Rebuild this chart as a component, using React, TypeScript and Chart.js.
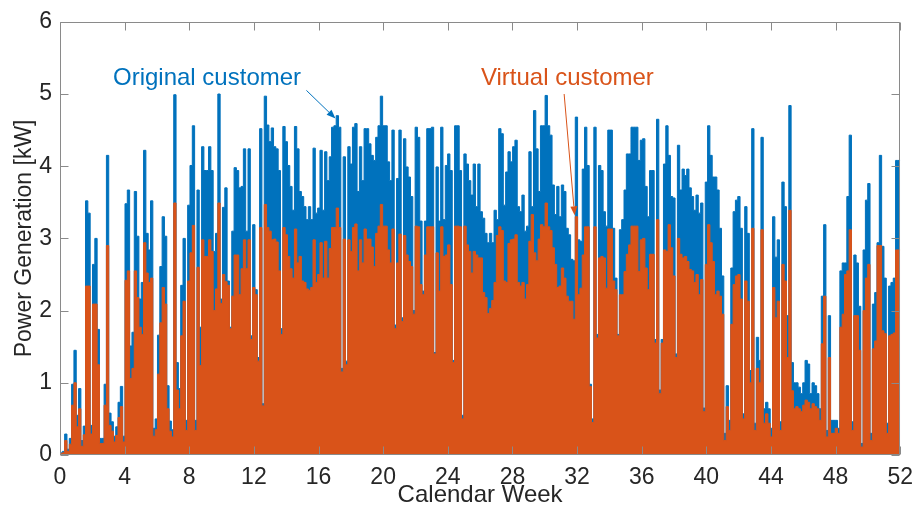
import React, { useEffect, useRef } from "react";
import { Chart, registerables } from "chart.js";

Chart.register(...registerables);

// Daily peak power generation [kW], split by period
const originalWinter = [0.03,0.03,0.05,0.29,0.08,0.23,0.98,1.45,0.55,0.92,0.2,0.4,3.52,3.35,0.41,2.64,3.0,1.74,0.23,0.23,0.98,4.15,0.58,0.46,0.26,0.39,0.73,0.95,0.26,3.48,3.67,1.51,1.7,3.65,3.03,2.16,2.39,4.22,3.07,2.84,3.52,0.37,0.5,1.66,2.61,3.3,3.03,0.96,0.47,0.35,4.99,1.28,0.92,2.35,3.0,0.48,3.46,4.01,4.56,0.48,3.67,1.77];
const originalSpring = [4.27,3.94,3.94,4.27,3.94,2.82,3.07,5.0,2.16,3.43,3.7,2.41,1.77,3.1,3.98,3.94,3.7,3.72,4.24,3.1,4.24,1.65,3.19,2.29,1.35,4.52,0.71,4.97,4.57,4.34,4.53,4.27,4.24,3.94,1.75,4.55,4.34,4.01,3.72,3.39,4.55,4.24,3.65,3.58,3.44,3.26,3.44,3.26,4.25,3.35,3.42,4.22,3.39,4.2,3.8,4.13,4.54,4.56,4.7,4.54];
const originalEarlySummer = [1.2,4.13,1.3,4.27,4.03,4.54,4.59,3.65,4.27,3.8,4.52,4.52,4.31,4.15,4.08,4.4,4.56,4.97,4.56,4.56,4.06,3.8,4.5,1.8,3.83,4.5,1.9,4.38,3.99,3.85,3.58,2.0,4.54,4.4,3.24,2.27,3.24,4.52,4.52,4.54,1.42,3.99,3.24,4.54,3.26,4.01,4.17,3.94,1.31,4.56,4.56,3.94,0.55,4.17,4.03,3.8,3.6,4.03,3.44,4.03];
const originalLateSummer = [3.37,3.28,3.07,2.94,3.07,2.94,3.39,3.26,4.52,4.45,3.46,3.92,4.2,4.06,4.27,4.36,3.44,3.37,3.6,3.1,3.17,4.2,3.44,4.77,4.24,3.65,4.56,4.56,4.98,4.56,4.43,3.74,3.33,3.72,3.3,3.74,3.65,3.14,3.05,2.71,2.69,4.68,2.98,2.96,3.96,4.54,4.01,0.98,0.5,4.54,1.67,4.01,3.94,3.37,3.17,4.5,4.5,3.14,2.45,1.67];
const originalAutumn = [3.12,3.26,3.67,4.17,4.17,4.54,4.54,4.54,4.08,4.36,4.38,3.72,3.3,3.94,3.94,1.6,4.65,0.9,1.6,4.03,4.56,4.15,3.58,3.56,1.4,4.29,3.67,3.96,3.87,3.96,3.7,3.58,3.39,3.6,3.35,3.49,0.65,3.78,4.56,4.15,3.85,3.85,3.67,3.14,2.48,0.3,0.96,0.48,2.59,3.37,3.53,3.58,3.14,0.57,3.44,3.07,1.17,4.52,0.44,1.63];
const originalLateYear = [1.31,4.4,0.64,0.73,0.64,0.37,3.3,2.74,2.98,0.46,3.78,3.44,1.93,4.84,1.28,1.0,1.0,0.94,0.85,1.0,1.31,1.26,0.85,1.0,0.96,0.85,0.64,2.2,3.19,0.34,1.93,0.48,0.48,0.48,0.37,2.55,2.66,2.66,3.58,4.43,0.46,2.77,2.66,2.06,0.16,2.84,3.53,3.76,0.3,2.09,2.25,2.94,4.15,2.89,2.45,0.44,2.34,2.39,2.45,4.08];

const virtualWinter = [0.02,0.02,0.03,0.2,0.05,0.15,0.69,1.0,0.39,0.64,0.12,0.28,2.34,2.34,0.29,2.09,2.09,1.25,0.16,0.16,0.69,2.9,0.41,0.33,0.18,0.27,0.52,0.67,0.18,2.42,2.55,1.06,1.2,2.55,2.18,1.77,1.67,2.94,2.52,2.39,2.45,0.26,0.35,1.12,1.83,2.32,2.09,0.64,0.33,0.25,3.49,0.9,0.64,1.65,2.13,0.34,2.41,2.8,3.18,0.34,2.6,1.24];
const virtualSpring = [2.98,2.75,2.75,2.98,2.82,2.0,2.3,3.49,2.1,2.5,2.4,2.35,1.75,2.2,2.77,2.77,2.22,2.58,2.98,2.58,2.98,1.6,2.32,2.22,1.3,3.15,0.68,3.47,3.15,3.1,2.98,2.99,2.95,2.55,1.67,3.15,3.05,2.75,2.58,2.45,3.13,2.66,2.75,2.41,2.39,2.3,2.28,2.32,2.98,2.39,2.5,2.94,2.45,2.96,2.45,2.86,3.15,3.15,3.42,3.15];
const virtualEarlySummer = [1.15,2.99,1.25,2.98,2.82,3.15,3.2,2.55,2.98,2.66,3.13,2.99,2.99,2.88,2.61,3.07,3.17,3.47,3.17,3.17,2.84,2.66,3.13,1.75,2.66,3.06,1.85,3.04,2.77,2.68,2.61,1.95,3.17,3.16,2.36,2.22,2.77,3.16,3.16,3.16,1.4,2.8,2.27,3.16,2.75,2.77,2.91,2.36,1.28,3.17,3.17,3.16,0.5,3.17,2.91,2.82,2.52,2.82,2.77,2.73];
const virtualLateSummer = [2.73,2.25,2.18,1.96,2.03,2.14,2.39,3.04,3.16,3.11,2.41,2.39,2.93,2.98,2.99,3.05,2.39,2.34,2.39,2.16,2.36,2.96,3.33,2.8,2.69,2.99,3.19,3.16,3.49,3.16,3.11,2.87,2.64,2.32,2.34,2.59,2.45,2.2,2.13,2.13,1.88,3.3,2.22,2.31,2.77,3.16,3.16,0.95,0.45,3.16,1.62,2.73,2.75,2.73,2.31,3.13,3.13,2.41,2.29,1.65];
const virtualAutumn = [2.22,2.22,2.54,2.78,2.91,3.17,3.17,3.17,2.54,2.98,3.0,2.59,2.29,2.78,2.78,1.55,3.26,0.85,1.55,2.84,2.82,3.19,2.87,2.48,1.35,3.0,2.78,2.73,2.75,2.68,2.57,2.55,2.39,2.5,2.22,2.43,0.6,2.64,3.19,2.94,2.68,2.22,2.27,2.2,1.95,0.2,0.67,0.34,1.81,2.36,2.48,2.5,2.16,0.5,2.41,2.13,1.0,3.14,0.34,1.2];
const virtualLateYear = [1.0,3.12,0.44,0.57,0.44,0.25,2.32,1.9,2.13,0.34,2.64,2.41,1.35,3.39,0.89,0.64,0.67,0.64,0.6,0.69,0.76,0.73,0.64,0.71,0.67,0.64,0.48,1.54,2.2,0.25,1.35,0.3,0.3,0.37,0.3,1.77,1.95,2.5,2.55,3.12,0.34,1.93,1.93,1.45,0.11,2.0,2.45,2.64,0.2,1.47,1.58,2.9,2.9,1.72,1.68,0.3,1.65,1.67,1.69,2.84];

const weekTicks = [0, 4, 8, 12, 16, 20, 24, 28, 32, 36, 40, 44, 48, 52];
const powerTicks = [0, 1, 2, 3, 4, 5, 6];

const originalDaily = [...originalWinter, ...originalSpring, ...originalEarlySummer, ...originalLateSummer, ...originalAutumn, ...originalLateYear];
const virtualDaily = [...virtualWinter, ...virtualSpring, ...virtualEarlySummer, ...virtualLateSummer, ...virtualAutumn, ...virtualLateYear];

const BLUE = "#0072BD";
const ORANGE = "#D95319";
const FONT = "'Liberation Sans', Arial, Helvetica, sans-serif";
const TEXT = "#262626";
const AXIS = "#8a8a8a";

function toSteps(values: number[]) {
  const span = weekTicks[weekTicks.length - 1];
  const w = span / values.length;
  const pts = values.map((v, i) => ({ x: i * w, y: v }));
  pts.push({ x: span, y: values[values.length - 1] });
  return pts;
}

function drawArrow(ctx: CanvasRenderingContext2D, x1: number, y1: number, x2: number, y2: number, color: string) {
  const ang = Math.atan2(y2 - y1, x2 - x1);
  const head = 9;
  const bx = x2 - head * Math.cos(ang);
  const by = y2 - head * Math.sin(ang);
  ctx.strokeStyle = color;
  ctx.fillStyle = color;
  ctx.lineWidth = 1;
  ctx.beginPath();
  ctx.moveTo(x1, y1);
  ctx.lineTo(bx, by);
  ctx.stroke();
  ctx.beginPath();
  ctx.moveTo(x2, y2);
  ctx.lineTo(bx + 3.5 * Math.sin(ang), by - 3.5 * Math.cos(ang));
  ctx.lineTo(bx - 3.5 * Math.sin(ang), by + 3.5 * Math.cos(ang));
  ctx.closePath();
  ctx.fill();
}

const framePlugin = {
  id: "framePlugin",
  afterDraw(chart: any) {
    const { ctx, chartArea: a, scales } = chart;
    const xs = scales.x;
    const ys = scales.y;
    ctx.save();
    // annotations
    ctx.font = `24px ${FONT}`;
    ctx.textAlign = "center";
    ctx.textBaseline = "middle";
    ctx.fillStyle = BLUE;
    ctx.fillText("Original customer", xs.getPixelForValue(9.1), ys.getPixelForValue(5.22));
    ctx.fillStyle = ORANGE;
    ctx.fillText("Virtual customer", xs.getPixelForValue(31.4), ys.getPixelForValue(5.21));
    drawArrow(ctx, xs.getPixelForValue(15.25), ys.getPixelForValue(5.05), xs.getPixelForValue(17.05), ys.getPixelForValue(4.66), BLUE);
    drawArrow(ctx, xs.getPixelForValue(31.2), ys.getPixelForValue(5.0), xs.getPixelForValue(31.85), ys.getPixelForValue(3.32), ORANGE);

    // frame
    ctx.strokeStyle = AXIS;
    ctx.lineWidth = 1;
    const L = Math.round(a.left) + 0.5;
    const R = Math.round(a.right) - 0.5;
    const T = Math.round(a.top) + 0.5;
    const B = Math.round(a.bottom) - 0.5;
    ctx.beginPath();
    ctx.rect(L, T, R - L, B - T);
    ctx.stroke();
    const tl = 8;
    ctx.beginPath();
    for (const v of powerTicks) {
      const py = Math.round(ys.getPixelForValue(v)) + 0.5;
      ctx.moveTo(L, py); ctx.lineTo(L + tl, py);
      ctx.moveTo(R, py); ctx.lineTo(R - tl, py);
    }
    for (const v of weekTicks) {
      const px = Math.round(xs.getPixelForValue(v)) + 0.5;
      ctx.moveTo(px, B); ctx.lineTo(px, B - tl);
      ctx.moveTo(px, T); ctx.lineTo(px, T + tl);
    }
    ctx.stroke();
    ctx.restore();
  },
};

export default function App() {
  const ref = useRef<HTMLCanvasElement | null>(null);
  useEffect(() => {
    if (!ref.current) return;
    const chart = new Chart(ref.current, {
      type: "line",
      data: {
        datasets: [
          {
            label: "Virtual customer",
            data: toSteps(virtualDaily),
            stepped: "after",
            borderColor: ORANGE,
            backgroundColor: ORANGE,
            borderWidth: 1,
            pointRadius: 0,
            fill: "origin",
          },
          {
            label: "Original customer",
            data: toSteps(originalDaily),
            stepped: "after",
            borderColor: BLUE,
            backgroundColor: BLUE,
            borderWidth: 1,
            pointRadius: 0,
            fill: "origin",
          },
        ],
      },
      options: {
        animation: false,
        responsive: false,
        events: [],
        layout: { padding: { top: 19, right: 16, left: 0, bottom: 0 } },
        plugins: {
          legend: { display: false },
          tooltip: { enabled: false },
        },
        scales: {
          x: {
            type: "linear",
            min: 0,
            max: 52,
            afterBuildTicks: (s: any) => { s.ticks = weekTicks.map((v) => ({ value: v })); },
            afterFit: (s: any) => { s.height = 56; },
            grid: { display: false, drawTicks: false },
            border: { display: false },
            ticks: { color: TEXT, font: { family: FONT, size: 23 }, padding: 9, maxRotation: 0, autoSkip: false },
            title: { display: true, text: "Calendar Week", color: TEXT, font: { family: FONT, size: 24 }, padding: { top: 0, bottom: 1 } },
          },
          y: {
            min: 0,
            max: 6,
            afterBuildTicks: (s: any) => { s.ticks = powerTicks.map((v) => ({ value: v })); },
            afterFit: (s: any) => { s.width = 60; },
            grid: { display: false, drawTicks: false },
            border: { display: false },
            ticks: { color: TEXT, font: { family: FONT, size: 23 }, padding: 8 },
            title: { display: true, text: "Power Generation [kW]", color: TEXT, font: { family: FONT, size: 23 }, padding: { top: 11, bottom: 0 } },
          },
        },
      },
      plugins: [framePlugin],
    } as any);
    return () => chart.destroy();
  }, []);
  return (
    <div style={{ position: "absolute", left: 0, top: 0, width: 922, height: 511, background: "#fff" }}>
      <canvas ref={ref} width={922} height={511} style={{ display: "block" }} />
    </div>
  );
}
